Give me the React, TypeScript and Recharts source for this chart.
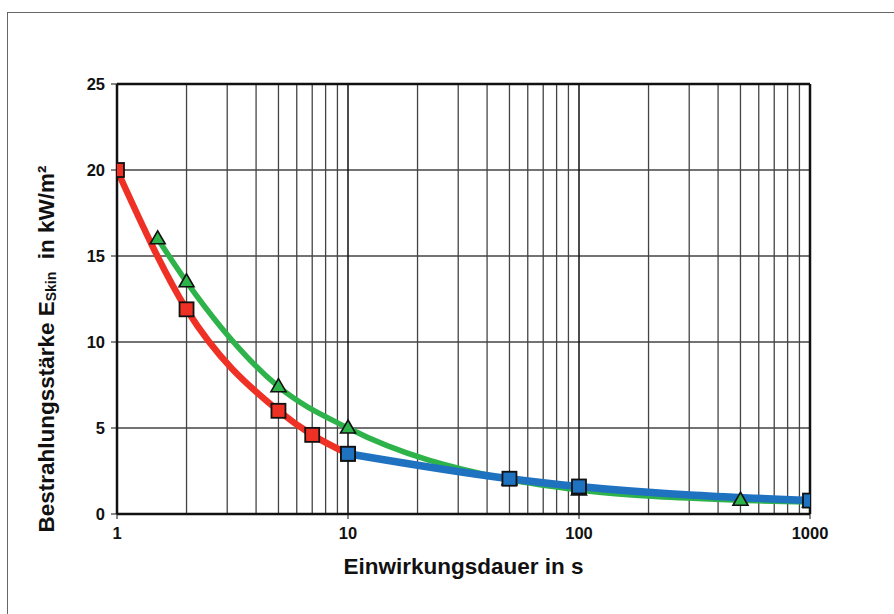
import React from "react";
import {
  LineChart,
  Line,
  XAxis,
  YAxis,
  CartesianGrid,
  ReferenceLine,
  Label,
} from "recharts";

// Einwirkungsdauer (s) und Bestrahlungsstärke (kW/m²)
const redX = [1, 2, 5, 7, 10];
const redY = [20, 11.9, 6, 4.6, 3.5];

const greenX = [1.5, 2, 5, 10, 50, 100, 500, 1000];
const greenY = [16, 13.5, 7.4, 5, 2, 1.4, 0.8, 0.7];

const blueX = [10, 50, 100, 1000];
const blueY = [3.5, 2.05, 1.6, 0.78];

const xTicks = [1, 10, 100, 1000];
const yTicks = [0, 5, 10, 15, 20, 25];
const minorX = [2, 3, 4, 5, 6, 7, 8, 9, 20, 30, 40, 50, 60, 70, 80, 90, 200, 300, 400, 500, 600, 700, 800, 900];
const decadeX = [10, 100];

const toPoints = (xs: number[], ys: number[]) => xs.map((x, i) => ({ x, y: ys[i] }));

const redData = toPoints(redX, redY);
const greenData = toPoints(greenX, greenY);
const blueData = toPoints(blueX, blueY);

const FONT = "'Liberation Sans', Arial, sans-serif";

function SquareDot(fill: string) {
  return (props: any) => {
    const { cx, cy, index } = props;
    if (cx == null || cy == null) return <g key={index} />;
    return (
      <rect
        key={index}
        x={cx - 7}
        y={cy - 7}
        width={14}
        height={14}
        fill={fill}
        stroke="#111"
        strokeWidth={1.8}
      />
    );
  };
}

function TriangleDot(fill: string) {
  return (props: any) => {
    const { cx, cy, index } = props;
    if (cx == null || cy == null) return <g key={index} />;
    return (
      <polygon
        key={index}
        points={`${cx},${cy - 8} ${cx + 7.5},${cy + 5} ${cx - 7.5},${cy + 5}`}
        fill={fill}
        stroke="#111"
        strokeWidth={1.6}
      />
    );
  };
}

const YLabel = (props: any) => {
  const { viewBox } = props;
  const cx = 46;
  const cy = viewBox.y + viewBox.height / 2 + 50;
  return (
    <text
      x={cx}
      y={cy}
      transform={`rotate(-90 ${cx} ${cy})`}
      textAnchor="middle"
      dominantBaseline="central"
      fontFamily={FONT}
      fontWeight="bold"
      fontSize={22.5}
      fill="#111"
    >
      Bestrahlungsstärke E
      <tspan fontSize={14} dy={5}>Skin</tspan>
      <tspan dy={-5}>{"\u00a0\u00a0in kW/m²"}</tspan>
    </text>
  );
};

export default function App() {
  return (
    <div
      style={{
        position: "fixed",
        left: 0,
        top: 0,
        width: 894,
        height: 614,
        background: "#fff",
      }}
    >
      <div
        style={{
          position: "absolute",
          left: 7,
          top: 12,
          width: 887,
          height: 602,
          borderTop: "1px solid #666",
          borderLeft: "1px solid #666",
        }}
      />
      <div style={{ position: "absolute", left: 0, top: 0 }}>
        <LineChart
          width={894}
          height={614}
          margin={{ top: 84, right: 84, bottom: 0, left: 0 }}
        >
          <CartesianGrid vertical={false} stroke="#444" strokeWidth={1.3} />
          {minorX.map((v) => (
            <ReferenceLine key={v} x={v} stroke="#444" strokeWidth={1.3} />
          ))}
          {decadeX.map((v) => (
            <ReferenceLine key={v} x={v} stroke="#111" strokeWidth={1.5} />
          ))}
          <ReferenceLine y={25} stroke="#111" strokeWidth={2.5} />
          <ReferenceLine x={1000} stroke="#111" strokeWidth={2.5} />
          <XAxis
            dataKey="x"
            type="number"
            scale="log"
            domain={[1, 1000]}
            ticks={xTicks}
            allowDataOverflow
            height={100}
            tickSize={5}
            tickMargin={8}
            axisLine={{ stroke: "#111", strokeWidth: 2.5 }}
            tickLine={{ stroke: "#111", strokeWidth: 1 }}
            tick={{ fontFamily: FONT, fontSize: 16.5, fontWeight: "bold", fill: "#111" }}
          >
            <Label
              value="Einwirkungsdauer in s"
              position="insideTop"
              offset={44}
              style={{ fontFamily: FONT, fontSize: 22.5, fontWeight: "bold", fill: "#111" }}
            />
          </XAxis>
          <YAxis
            dataKey="y"
            type="number"
            domain={[0, 25]}
            ticks={yTicks}
            width={117}
            tickSize={6}
            tickMargin={6}
            axisLine={{ stroke: "#111", strokeWidth: 2.5 }}
            tickLine={{ stroke: "#111", strokeWidth: 1 }}
            tick={{ fontFamily: FONT, fontSize: 16.5, fontWeight: "bold", fill: "#111" }}
          >
            <Label content={<YLabel />} />
          </YAxis>
          <Line
            data={greenData}
            dataKey="y"
            type="monotone"
            stroke="#2db34a"
            strokeWidth={5.5}
            dot={TriangleDot("#2db34a")}
            activeDot={false}
            isAnimationActive={false}
          />
          <Line
            data={redData}
            dataKey="y"
            type="monotone"
            stroke="#ee3124"
            strokeWidth={6.5}
            dot={SquareDot("#ee3124")}
            activeDot={false}
            isAnimationActive={false}
          />
          <Line
            data={blueData}
            dataKey="y"
            type="monotone"
            stroke="#1f72c0"
            strokeWidth={7.5}
            dot={SquareDot("#1f72c0")}
            activeDot={false}
            isAnimationActive={false}
          />
        </LineChart>
      </div>
    </div>
  );
}
